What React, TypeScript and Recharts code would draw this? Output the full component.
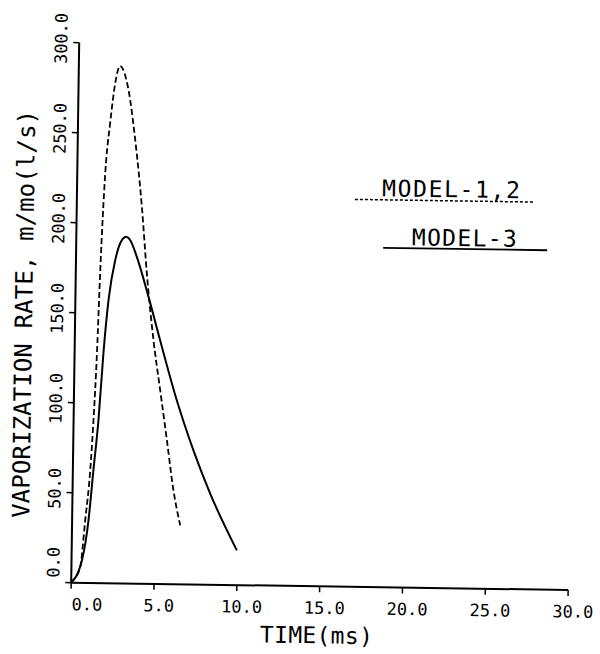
import React from 'react';
import { LineChart, Line, XAxis, YAxis, Customized } from 'recharts';

const xTicks = [0, 5, 10, 15, 20, 25, 30];
const xTickLabels = ['0.0', '5.0', '10.0', '15.0', '20.0', '25.0', '30.0'];
const yTicks = [0, 50, 100, 150, 200, 250, 300];
const yTickLabels = ['0.0', '50.0', '100.0', '150.0', '200.0', '250.0', '300.0'];

const model12Time = [0, 0.12, 0.53, 0.79, 1.05, 1.2, 1.35, 1.47, 1.69, 1.94, 2.21, 2.49, 3.02, 3.47, 3.93, 4.29, 4.75, 5.2, 5.65, 6.09, 6.53];
const model12Rate = [0, 1.3, 8.7, 34.7, 62.6, 90.4, 127.7, 172, 227.8, 255.5, 277.7, 287.4, 274.1, 246.4, 209.4, 172.4, 135.4, 107.6, 79.9, 52.1, 32.7];

const model3Time = [0, 0.63, 0.99, 1.24, 1.5, 1.74, 2.0, 2.37, 2.65, 3.01, 3.25, 3.67, 4.41, 5.15, 6.21, 7.26, 8.31, 9.97];
const model3Rate = [0, 12.5, 34.8, 62.6, 90.4, 127.6, 157.2, 179.5, 188.8, 192.6, 190.8, 181.5, 159.4, 135.4, 102.2, 74.5, 50.6, 19.3];

const legendLabels = ['MODEL-1,2', 'MODEL-3'];
const xTitle = 'TIME(ms)';
const yTitle = 'VAPORIZATION RATE, m/mo(l/s)';

const model12Data = model12Time.map((t, i) => ({ t, v: model12Rate[i] }));
const model3Data = model3Time.map((t, i) => ({ t, v: model3Rate[i] }));

const FONT = '"DejaVu Sans Mono", monospace';

const XTick = (props: any) => {
  const { x, y, payload } = props;
  const idx = xTicks.indexOf(payload.value);
  const dx = payload.value === 0 ? 16 : 5;
  return (
    <text x={x + dx} y={y + 19.5} textAnchor="middle" fontSize={17} fontFamily={FONT} fill="#000">
      {xTickLabels[idx]}
    </text>
  );
};

const YTick = (props: any) => {
  const { x, y, payload } = props;
  const idx = yTicks.indexOf(payload.value);
  const cy = y - (payload.value === 0 ? 20 : 4);
  const bx = x - 4;
  return (
    <text transform={`translate(${bx},${cy}) rotate(-90)`} textAnchor="middle" fontSize={17} fontFamily={FONT} fill="#000">
      {yTickLabels[idx]}
    </text>
  );
};

const Decorations = () => (
  <g>
    <text transform="translate(32,318) rotate(-90)" textAnchor="middle" fontSize={24} fontFamily={FONT} fill="#000" textLength={408} lengthAdjust="spacing">
      {yTitle}
    </text>
    <text x={321} y={643} textAnchor="middle" fontSize={23} fontFamily={FONT} fill="#000" textLength={113} lengthAdjust="spacing">
      {xTitle}
    </text>
    <text x={449} y={195} textAnchor="middle" fontSize={23} fontFamily={FONT} fill="#000" textLength={138} lengthAdjust="spacing">
      {legendLabels[0]}
    </text>
    <line x1={353} y1={198.6} x2={531} y2={198.6} stroke="#000" strokeWidth={1.5} strokeDasharray="3 2" />
    <text x={463} y={243.6} textAnchor="middle" fontSize={23} fontFamily={FONT} fill="#000" textLength={105} lengthAdjust="spacing">
      {legendLabels[1]}
    </text>
    <line x1={382} y1={246.6} x2={546} y2={246.6} stroke="#000" strokeWidth={1.8} />
  </g>
);

export default function App() {
  return (
    <div
      style={{
        position: 'absolute',
        left: 0,
        top: 0,
        width: 600,
        height: 654,
        background: '#fff',
        transform: 'rotate(0.85deg)',
        transformOrigin: '300px 327px',
      }}
    >
      <LineChart width={600} height={654} margin={{ top: 46, right: 28, left: 15, bottom: 18 }}>
        <XAxis
          type="number"
          dataKey="t"
          domain={[0, 30]}
          ticks={xTicks}
          allowDataOverflow
          height={50}
          tickSize={6}
          tickMargin={2}
          tick={<XTick />}
          axisLine={{ stroke: '#000', strokeWidth: 2 }}
          tickLine={{ stroke: '#000', strokeWidth: 1.5 }}
        />
        <YAxis
          type="number"
          dataKey="v"
          domain={[0, 300]}
          ticks={yTicks}
          allowDataOverflow
          width={60}
          tickSize={6}
          tickMargin={2}
          tick={<YTick />}
          axisLine={{ stroke: '#000', strokeWidth: 2 }}
          tickLine={{ stroke: '#000', strokeWidth: 1.5 }}
        />
        <Line
          data={model12Data}
          dataKey="v"
          type="monotone"
          stroke="#000"
          strokeWidth={1.8}
          strokeDasharray="6 3"
          dot={false}
          activeDot={false}
          isAnimationActive={false}
        />
        <Line
          data={model3Data}
          dataKey="v"
          type="monotone"
          stroke="#000"
          strokeWidth={2}
          dot={false}
          activeDot={false}
          isAnimationActive={false}
        />
        <Customized component={<Decorations />} />
      </LineChart>
    </div>
  );
}
